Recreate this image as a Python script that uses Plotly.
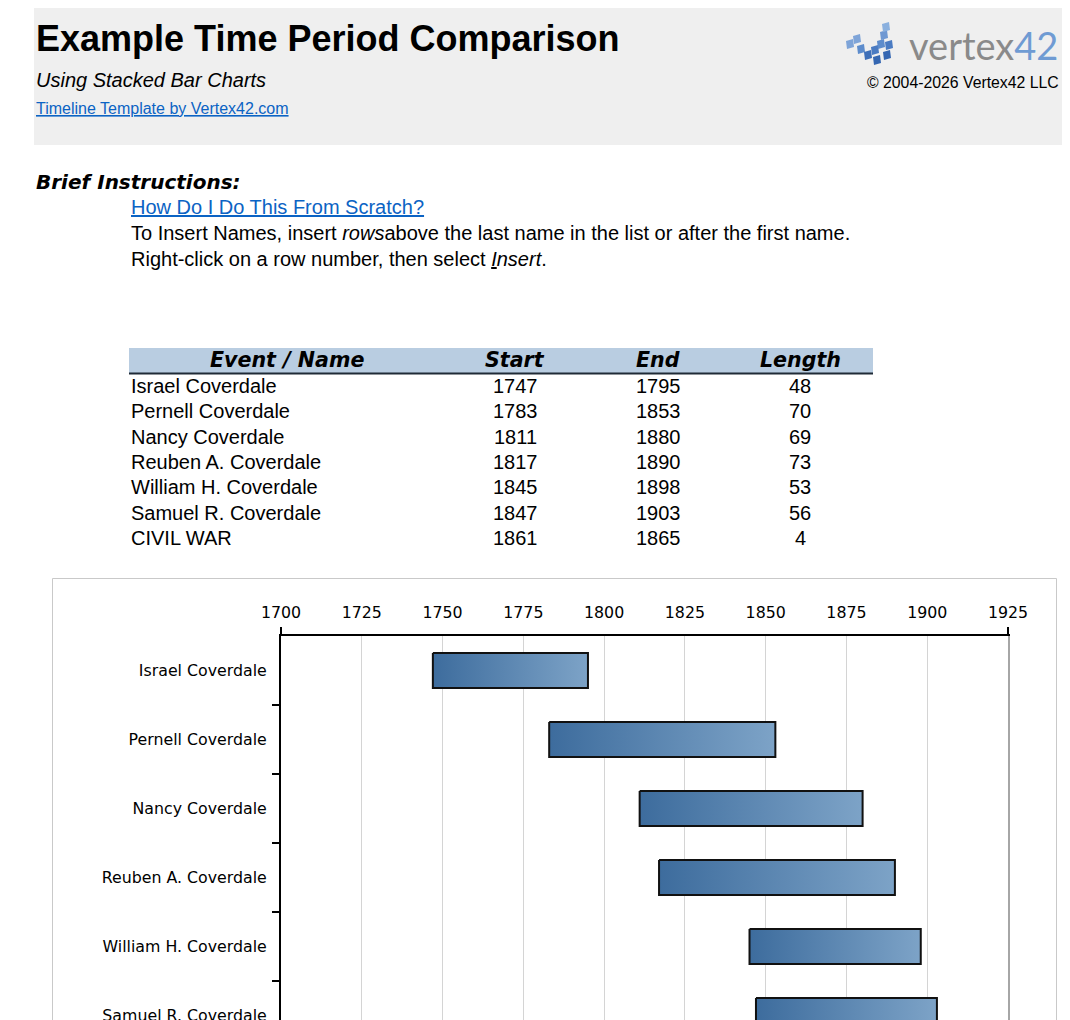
import plotly.graph_objects as go

# ---------------- data ----------------
names = ["Israel Coverdale", "Pernell Coverdale", "Nancy Coverdale", "Reuben A. Coverdale",
         "William H. Coverdale", "Samuel R. Coverdale", "CIVIL WAR"]
starts = [1747, 1783, 1811, 1817, 1845, 1847, 1861]
ends = [1795, 1853, 1880, 1890, 1898, 1903, 1865]
lengths = [48, 70, 69, 73, 53, 56, 4]
year_ticks = [1700, 1725, 1750, 1775, 1800, 1825, 1850, 1875, 1900, 1925]
table_headers = ["Event / Name", "Start", "End", "Length"]

# ---------------- layout geometry (pixels) ----------------
W, H = 1070, 1020
L, R, T, B = 281, 1008, 636, 1020
ROW = 69.0
pw, ph = R - L, B - T


def px(x):
    return (x - L) / pw


def py(y):
    return (B - y) / ph


y_bottom = -0.5 + ph / ROW
half = 0.255

fig = go.Figure()

# bars as gradient-filled shapes
for i, (s, e) in enumerate(zip(starts, ends)):
    fig.add_trace(go.Scatter(
        x=[s, e, e, s, s],
        y=[i - half, i - half, i + half, i + half, i - half],
        mode="lines", fill="toself",
        line=dict(color="#111111", width=2),
        fillgradient=dict(type="horizontal",
                          colorscale=[[0, "#3d6c9d"], [1, "#7da3c7"]]),
        hoverinfo="skip", showlegend=False,
    ))

# dummy traces so that the overlay axes are drawn
fig.add_trace(go.Scatter(x=[None], y=[None], xaxis="x", yaxis="y2", showlegend=False))
fig.add_trace(go.Scatter(x=[None], y=[None], xaxis="x", yaxis="y3", showlegend=False))
fig.add_trace(go.Scatter(x=[None], y=[None], xaxis="x2", yaxis="y", showlegend=False))

axis_font = dict(family="DejaVu Sans, Verdana, sans-serif", size=15.8, color="#000000")

fig.update_layout(
    width=W, height=H,
    margin=dict(l=L, r=W - R, t=T, b=H - B, pad=0, autoexpand=False),
    paper_bgcolor="white", plot_bgcolor="rgba(0,0,0,0)",
    showlegend=False,
    xaxis=dict(side="top", range=[year_ticks[0], year_ticks[-1]],
               tickmode="array", tickvals=year_ticks,
               ticktext=[str(t) for t in year_ticks],
               showgrid=True, gridcolor="#d4d4d4", gridwidth=1,
               showline=True, linecolor="#000000", linewidth=2,
               ticks="outside", ticklen=10, tickcolor="rgba(0,0,0,0)",
               zeroline=False, tickfont=axis_font, fixedrange=True, automargin=False),
    xaxis2=dict(overlaying="x", side="top", range=[year_ticks[0], year_ticks[-1]],
                tickmode="array", tickvals=[year_ticks[0], year_ticks[-1]],
                ticks="outside", ticklen=8, tickwidth=2, tickcolor="#000000",
                showticklabels=False, showgrid=False, zeroline=False, showline=False,
                automargin=False),
    yaxis=dict(range=[y_bottom, -0.5], tickmode="array",
               tickvals=list(range(len(names))), ticktext=names,
               showgrid=False, zeroline=False,
               showline=True, linecolor="#000000", linewidth=2,
               ticks="outside", ticklen=9, tickcolor="rgba(0,0,0,0)",
               ticklabeloverflow="allow", automargin=False,
               tickfont=axis_font, fixedrange=True),
    yaxis2=dict(overlaying="y", side="left", range=[y_bottom, -0.5],
                tickmode="array", tickvals=[i + 0.5 for i in range(len(names))],
                ticks="outside", ticklen=8, tickwidth=1.5, tickcolor="#000000",
                showticklabels=False, showgrid=False, zeroline=False, showline=False,
                automargin=False),
    yaxis3=dict(overlaying="y", side="right", range=[y_bottom, -0.5],
                showticklabels=False, ticks="", showgrid=False, zeroline=False,
                showline=True, linecolor="#a6a6a6", linewidth=2, automargin=False),
)

shapes = []
annotations = []


def rect(x0, y0, x1, y1, fill=None, line=None, layer="below"):
    shapes.append(dict(type="rect", xref="paper", yref="paper",
                       x0=px(x0), x1=px(x1), y0=py(y0), y1=py(y1),
                       fillcolor=fill or "rgba(0,0,0,0)",
                       line=line or dict(width=0), layer=layer))


def text(x, y, s, size, family="Liberation Sans, Arial, sans-serif", color="#000000",
         xanchor="left", bold=False, italic=False):
    if bold:
        s = "<b>" + s + "</b>"
    if italic:
        s = "<i>" + s + "</i>"
    shift = {"left": -2, "right": 2, "center": 0}[xanchor]
    annotations.append(dict(x=px(x), y=py(y), xref="paper", yref="paper", text=s,
                            showarrow=False, xanchor=xanchor, yanchor="middle",
                            xshift=shift,
                            font=dict(family=family, size=size, color=color)))


# header block
rect(34, 8, 1062, 145, fill="#efefef")
text(36, 38, "Example Time Period Comparison", 36, bold=True)
text(36, 80, "Using Stacked Bar Charts", 20, italic=True)
text(36, 108, "<span style='text-decoration:underline'>Timeline Template by Vertex42.com</span>",
     16, color="#0b63c4")
text(1059, 82, "© 2004-2026 Vertex42 LLC", 15.8, xanchor="right")
text(1058, 45, "vertex<span style='color:#6f9bd3'>42</span>", 38,
     family="Lato, Open Sans, sans-serif", color="#8a8a8a", xanchor="right")

# logo mark (small tilted blue tiles)
tiles = [(850, 44, "#7ea4d8"), (857, 39, "#7ea4d8"), (861, 49, "#5d8ccc"), (868, 55, "#3e6fb8"),
         (875, 50, "#4a7bc2"), (881, 44, "#5d8ccc"), (884, 35, "#6f98d2"), (886, 27, "#8ab0de"),
         (877, 60, "#3567b2"), (887, 55, "#3567b2"), (889, 45, "#4a7bc2")]
for (cx, cy, col) in tiles:
    pts = [(cx - 4, cy - 3), (cx + 3, cy - 5), (cx + 4, cy + 3), (cx - 3, cy + 5)]
    path = "M " + " L ".join(f"{px(a):.5f},{py(b):.5f}" for a, b in pts) + " Z"
    shapes.append(dict(type="path", xref="paper", yref="paper", path=path,
                       fillcolor=col, line=dict(width=0), layer="above"))

# instructions
text(36, 182, "Brief Instructions:", 20, family="DejaVu Sans, Verdana, sans-serif",
     bold=True, italic=True)
text(131, 207, "<span style='text-decoration:underline'>How Do I Do This From Scratch?</span>",
     20, color="#0b63c4")
text(131, 233, "To Insert Names, insert <i>rows</i>above the last name in the list or after the first name.", 20)
text(131, 259, "Right-click on a row number, then select <span style='text-decoration:underline'><i>I</i></span><i>nsert</i>.", 20)

# table
rect(129, 348, 873, 373, fill="#b9cde1")
shapes.append(dict(type="line", xref="paper", yref="paper", x0=px(129), x1=px(873),
                   y0=py(373.5), y1=py(373.5), line=dict(color="#1f2a36", width=2)))
col_x = [287, 515, 658, 800]
for cx, hd in zip(col_x, table_headers):
    text(cx, 360, hd, 20.6, family="DejaVu Sans, Verdana, sans-serif", bold=True,
         italic=True, xanchor="center")
for i in range(len(names)):
    ry = 386 + i * 25.35
    text(131, ry, names[i], 20)
    text(col_x[1], ry, str(starts[i]), 20, xanchor="center")
    text(col_x[2], ry, str(ends[i]), 20, xanchor="center")
    text(col_x[3], ry, str(lengths[i]), 20, xanchor="center")

# chart frame
rect(52.5, 578.5, 1056.5, 1200, line=dict(color="#c9c9c9", width=1), layer="below")

fig.update_layout(shapes=shapes, annotations=annotations)
fig.write_html("out.html")
